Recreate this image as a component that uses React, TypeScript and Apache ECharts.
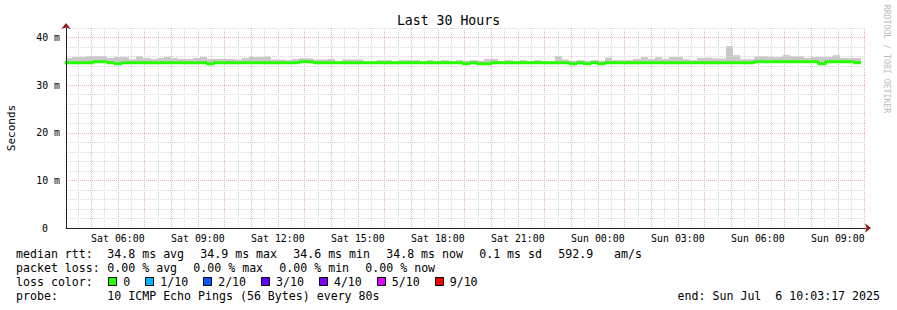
import React, { useEffect, useRef } from 'react';
import * as echarts from 'echarts';

const FONT = "'DejaVu Sans Mono', 'Liberation Mono', monospace";
const TITLE = 'Last 30 Hours';
const Y_NAME = 'Seconds';
const WATERMARK = 'RRDTOOL / TOBI OETIKER';

// time in hours since Sat 00:00
const FIRST_STEP_H = 4; // first consolidated step starts Sat 04:00
const STEP_H = 16 / 60; // 960 s consolidation step
const VIEW_START_H = 4 + 3 / 60 + 17 / 3600; // Sat 04:03:17
const VIEW_END_H = VIEW_START_H + 30; // Sun 10:03:17
const Y_MAX = 42;

// median rtt per 16-minute step (ms)
const medianRtt = [
  34.72, 34.72, 34.72, 34.72, 34.93, 34.93, 34.72, 34.5, 34.72, 34.72,
  34.72, 34.72, 34.72, 34.72, 34.72, 34.72, 34.72, 34.72, 34.72, 34.72,
  34.5, 34.72, 34.72, 34.72, 34.72, 34.72, 34.72, 34.72, 34.72, 34.72,
  34.72, 34.72, 34.72, 34.93, 34.93, 34.72, 34.72, 34.72, 34.72, 34.72,
  34.72, 34.72, 34.72, 34.72, 34.72, 34.72, 34.72, 34.72, 34.72, 34.72,
  34.72, 34.72, 34.72, 34.72, 34.72, 34.72, 34.5, 34.72, 34.5, 34.5,
  34.72, 34.72, 34.72, 34.72, 34.72, 34.72, 34.72, 34.72, 34.72, 34.72,
  34.72, 34.5, 34.72, 34.5, 34.72, 34.5, 34.72, 34.72, 34.72, 34.72,
  34.72, 34.72, 34.72, 34.72, 34.72, 34.72, 34.72, 34.72, 34.72, 34.72,
  34.72, 34.72, 34.72, 34.72, 34.72, 34.72, 34.72, 34.93, 34.93, 34.93,
  34.93, 34.93, 34.93, 34.93, 34.93, 34.93, 34.5, 34.93, 34.93, 34.93,
  34.93, 34.72,
];

// highest ping per step (top of the smoke, ms)
const smokeMax = [
  35.7, 35.9, 35.9, 36.1, 36.1, 36.1, 35.7, 35.9, 35.9, 35.45,
  36.1, 35.7, 35.5, 35.7, 35.9, 35.7, 35.5, 35.5, 35.7, 35.9,
  35.5, 35.5, 35.5, 35.5, 35.4, 35.7, 35.9, 35.9, 36.0, 35.4,
  35.4, 35.25, 35.5, 35.65, 35.65, 35.4, 35.4, 35.5, 35.0, 35.4,
  35.4, 35.4, 35.0, 35.0, 35.25, 35.25, 35.0, 35.25, 35.25, 35.25,
  35.0, 35.25, 35.0, 35.25, 35.0, 35.25, 35.1, 35.25, 35.1, 35.5,
  35.5, 35.0, 35.25, 35.0, 35.25, 35.0, 35.25, 35.0, 35.0, 36.1,
  35.4, 35.1, 35.25, 35.1, 35.25, 35.1, 35.8, 35.25, 35.25, 35.25,
  35.5, 35.9, 35.5, 35.9, 35.5, 35.9, 35.9, 35.45, 35.25, 35.7,
  35.8, 35.6, 35.6, 38.2, 36.3, 35.45, 35.45, 36.05, 36.05, 35.9,
  35.9, 36.3, 36.05, 36.05, 35.7, 35.9, 35.9, 35.9, 36.3, 35.7,
  35.7, 35.7,
];

// lowest ping per step (bottom of the smoke, ms)
const smokeMin = [
  34.55, 34.55, 34.55, 34.55, 34.75, 34.75, 34.55, 34.35, 34.55, 34.55,
  34.55, 34.55, 34.55, 34.55, 34.55, 34.55, 34.55, 34.55, 34.55, 34.55,
  34.35, 34.55, 34.55, 34.55, 34.55, 34.55, 34.55, 34.55, 34.55, 34.55,
  34.55, 34.55, 34.55, 34.75, 34.75, 34.55, 34.55, 34.55, 34.55, 34.55,
  34.55, 34.55, 34.55, 34.55, 34.55, 34.55, 34.55, 34.55, 34.55, 34.55,
  34.55, 34.55, 34.55, 34.55, 34.55, 34.55, 34.35, 34.55, 34.35, 34.35,
  34.55, 34.55, 34.55, 34.55, 34.55, 34.55, 34.55, 34.55, 34.55, 34.55,
  34.55, 34.35, 34.55, 34.35, 34.55, 34.35, 34.55, 34.55, 34.55, 34.55,
  34.55, 34.55, 34.55, 34.55, 34.55, 34.55, 34.55, 34.55, 34.55, 34.55,
  34.55, 34.55, 34.55, 34.55, 34.55, 34.55, 34.55, 34.75, 34.75, 34.75,
  34.75, 34.75, 34.75, 34.75, 34.75, 34.75, 34.35, 34.75, 34.75, 34.75,
  34.75, 34.55,
];

const rttLabel = 'median rtt:';
const rttStats = ['34.8 ms avg', '34.9 ms max', '34.6 ms min', '34.8 ms now', '0.1 ms sd', '592.9', 'am/s'];
const lossLabel = 'packet loss:';
const lossStats = ['0.00 % avg', '0.00 % max', '0.00 % min', '0.00 % now'];
const lossColorLabel = 'loss color:';
const lossLevels = ['0', '1/10', '2/10', '3/10', '4/10', '5/10', '9/10'];
const lossColors = ['#26ff00', '#00b8ff', '#0059ff', '#5e00ff', '#7e00ff', '#dd00ff', '#ff0000'];
const probeLabel = 'probe:';
const probeText = '10 ICMP Echo Pings (56 Bytes) every 80s';
const endText = 'end: Sun Jul  6 10:03:17 2025';

const MEDIAN_COLOR = lossColors[0];
const SMOKE_COLOR = '#c8c8c8';
const MAJOR_GRID = '#eeb2b2';
const MINOR_GRID = '#d9d9d9';
const ARROW = '#8e1b1b';

function stepSeries(values: number[]) {
  const pts = values.map((v, i) => [FIRST_STEP_H + i * STEP_H, v]);
  pts.push([FIRST_STEP_H + values.length * STEP_H, values[values.length - 1]]);
  return pts;
}

function hourLabel(v: number) {
  const h = Math.round(v);
  if (Math.abs(v - h) > 1e-6 || h % 3 !== 0) return '';
  const day = h >= 24 ? 'Sun' : 'Sat';
  const hh = String(h % 24).padStart(2, '0');
  return `${day} ${hh}:00`;
}

export default function App() {
  const ref = useRef<HTMLDivElement>(null);
  useEffect(() => {
    if (!ref.current) return;
    const chart = echarts.init(ref.current, null, { renderer: 'svg' });

    const gridLeft = 66;
    const gridTop = 28;
    const gridW = 800;
    const gridH = 200;
    const pxPerH = gridW / (VIEW_END_H - VIEW_START_H);
    const gridBMin = 4.5;
    const gridBMax = 34;
    const gridBLeft = gridLeft + (gridBMin - VIEW_START_H) * pxPerH;
    const gridBWidth = (gridBMax - gridBMin) * pxPerH;

    const smokeData = smokeMax.map((hi, i) => [
      FIRST_STEP_H + i * STEP_H,
      FIRST_STEP_H + (i + 1) * STEP_H,
      smokeMin[i],
      hi,
    ]);

    const CW = 6.97; // legend character width
    const legendText = (text: string, x: number, y: number, align = 'left') => ({
      type: 'text',
      x,
      y,
      style: { text, font: `11.6px ${FONT}`, fill: '#000', align, verticalAlign: 'middle' },
    });

    const rowY = [254, 268, 282, 296];
    const rttX: number[] = [];
    rttStats.forEach((t, i) => {
      if (i === 0) rttX.push(107.3);
      else if (i === rttStats.length - 1) rttX.push(rttX[i - 1] + rttStats[i - 1].length * CW + 3 * CW);
      else rttX.push(rttX[i - 1] + rttStats[i - 1].length * CW + 16.3);
    });
    const lossX: number[] = [];
    lossStats.forEach((t, i) => {
      lossX.push(i === 0 ? 107.3 : lossX[i - 1] + lossStats[i - 1].length * CW + 16.3);
    });
    const levelX: number[] = [];
    lossLevels.forEach((t, i) => {
      levelX.push(i === 0 ? 123.3 : levelX[i - 1] + lossLevels[i - 1].length * CW + 30);
    });

    const graphics: any[] = [
      {
        type: 'text', x: 11, y: 128, rotation: Math.PI / 2,
        style: { text: Y_NAME, font: `11px ${FONT}`, fill: '#000', align: 'center', verticalAlign: 'middle' },
      },
      {
        type: 'text', x: 887, y: 59, rotation: -Math.PI / 2,
        style: { text: WATERMARK, font: `8.2px ${FONT}`, fill: '#bdbdbd', align: 'center', verticalAlign: 'middle' },
      },
      legendText(rttLabel, 16, rowY[0]),
      ...rttStats.map((t, i) => legendText(t, rttX[i], rowY[0])),
      legendText(lossLabel, 16, rowY[1]),
      ...lossStats.map((t, i) => legendText(t, lossX[i], rowY[1])),
      legendText(lossColorLabel, 16, rowY[2]),
      ...lossLevels.flatMap((t, i) => [
        {
          type: 'rect',
          shape: { x: Math.round(levelX[i] - 15) + 0.5, y: rowY[2] - 4.5, width: 8, height: 8 },
          style: { fill: lossColors[i], stroke: '#000', lineWidth: 1 },
        },
        legendText(t, levelX[i], rowY[2]),
      ]),
      legendText(probeLabel, 16, rowY[3]),
      legendText(probeText, 107.3, rowY[3]),
      legendText(endText, 880, rowY[3], 'right'),
    ];

    chart.setOption({
      animation: false,
      backgroundColor: '#ffffff',
      title: {
        text: TITLE,
        left: 'center',
        top: 9,
        textStyle: { fontFamily: FONT, fontSize: 13.2, fontWeight: 'normal', color: '#000' },
      },
      grid: [
        { left: gridLeft, top: gridTop, width: gridW, height: gridH },
        { left: gridBLeft, top: gridTop, width: gridBWidth, height: gridH },
      ],
      xAxis: [
        {
          type: 'value', gridIndex: 0, min: VIEW_START_H, max: VIEW_END_H, position: 'bottom',
          axisLine: { show: true, onZero: false, lineStyle: { color: '#222', width: 1 } },
          axisTick: { show: false }, axisLabel: { show: false }, splitLine: { show: false },
          z: 5,
        },
        {
          type: 'value', gridIndex: 1, min: gridBMin, max: gridBMax, interval: 0.5, position: 'bottom',
          axisLine: { show: false }, axisTick: { show: false },
          axisLabel: {
            show: true, margin: 5, formatter: hourLabel,
            fontFamily: FONT, fontSize: 9.9, color: '#000',
          },
          splitLine: {
            show: true,
            lineStyle: { color: [MINOR_GRID, MAJOR_GRID], type: [1, 1], width: 1 },
          },
          z: 1,
        },
        {
          type: 'value', gridIndex: 0, min: VIEW_START_H, max: VIEW_END_H, position: 'bottom',
          axisLine: {
            show: true, onZero: false, symbol: ['none', 'arrow'], symbolSize: [7, 6], symbolOffset: [0, 5],
            lineStyle: { color: ARROW, width: 0 },
          },
          axisTick: { show: false }, axisLabel: { show: false }, splitLine: { show: false },
          z: 6,
        },
      ],
      yAxis: [
        {
          type: 'value', gridIndex: 0, min: 0, max: Y_MAX, interval: 2, position: 'left',
          axisLine: { show: true, lineStyle: { color: '#222', width: 1 } },
          axisTick: { show: false },
          axisLabel: {
            margin: 6, fontFamily: FONT, fontSize: 9.9, color: '#000',
            formatter: (v: number) => {
              const r = Math.round(v);
              if (r === 0) return '{z|0}';
              return r % 10 === 0 ? `${r} m` : '';
            },
            rich: { z: { fontFamily: FONT, fontSize: 9.9, color: '#000', padding: [0, 12, 0, 0] } },
          },
          splitLine: {
            show: true,
            lineStyle: { color: [MAJOR_GRID, MINOR_GRID, MINOR_GRID, MINOR_GRID, MINOR_GRID], type: [1, 1], width: 1 },
          },
          z: 5,
        },
        { type: 'value', gridIndex: 1, min: 0, max: Y_MAX, show: false },
        {
          type: 'value', gridIndex: 0, min: 0, max: Y_MAX, position: 'left',
          axisLine: {
            show: true, symbol: ['none', 'arrow'], symbolSize: [7, 6], symbolOffset: [0, 5],
            lineStyle: { color: ARROW, width: 0 },
          },
          axisTick: { show: false }, axisLabel: { show: false }, splitLine: { show: false },
          z: 6,
        },
      ],
      series: [
        {
          name: 'smoke', type: 'custom', xAxisIndex: 0, yAxisIndex: 0,
          data: smokeData, encode: { x: [0, 1], y: [2, 3] }, silent: true, z: 2,
          renderItem: (params: any, api: any) => {
            const pTop = api.coord([api.value(0), api.value(3)]);
            const pBot = api.coord([api.value(1), api.value(2)]);
            const x0 = Math.round(pTop[0]);
            const x1 = Math.round(pBot[0]);
            const shape = echarts.graphic.clipRectByRect(
              { x: x0, y: pTop[1], width: x1 - x0, height: pBot[1] - pTop[1] },
              { x: params.coordSys.x, y: params.coordSys.y, width: params.coordSys.width, height: params.coordSys.height },
            );
            if (!shape) return null;
            return { type: 'rect', shape, style: { fill: SMOKE_COLOR } };
          },
        },
        {
          name: 'median rtt', type: 'line', xAxisIndex: 0, yAxisIndex: 0, step: 'end',
          data: stepSeries(medianRtt), symbol: 'none',
          lineStyle: { color: MEDIAN_COLOR, width: 3 }, silent: true, z: 3,
        },
      ],
      graphic: graphics,
    });

    return () => chart.dispose();
  }, []);

  return <div ref={ref} style={{ position: 'absolute', left: 0, top: 0, width: 897, height: 310 }} />;
}
